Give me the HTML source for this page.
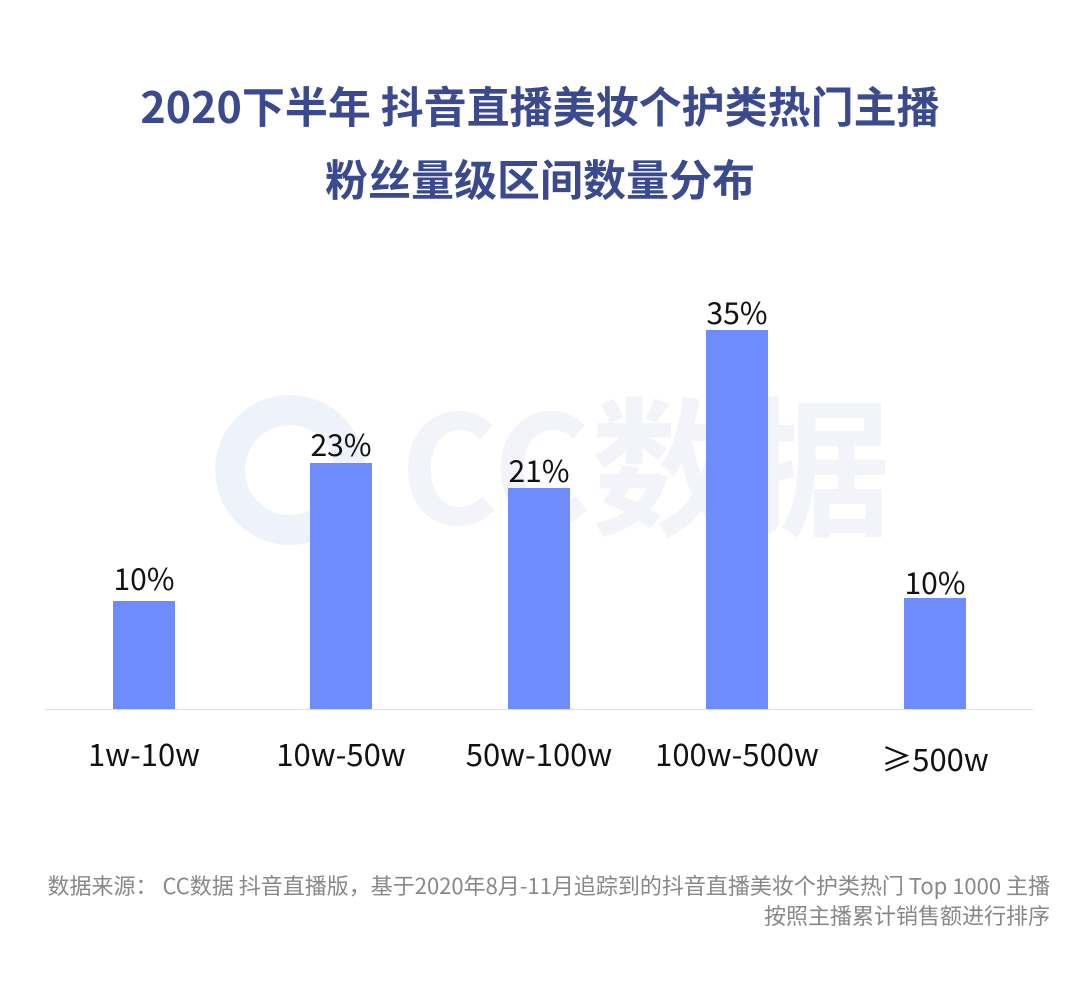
<!DOCTYPE html>
<html><head><meta charset="utf-8"><style>
body{margin:0;width:1080px;height:988px;background:#fff;position:relative;overflow:hidden;font-family:"Liberation Sans","Noto Sans CJK SC",sans-serif}
.t{position:absolute;left:0;width:1080px;text-align:center;font-weight:bold;font-size:43px;color:#3b4a8e;font-family:"Noto Sans CJK SC",sans-serif;line-height:1}
.bar{position:absolute;width:62px;background:#6f8cff;bottom:279px}
.v{position:absolute;width:140px;text-align:center;font-size:30px;color:#111;font-family:"Noto Sans CJK SC",sans-serif;line-height:1}
.c{position:absolute;width:220px;text-align:center;font-size:31px;color:#111;top:737px;font-family:"Noto Sans CJK SC",sans-serif;line-height:1}
.f{position:absolute;right:30px;font-size:22px;color:#888;font-family:"Noto Sans CJK SC",sans-serif;line-height:1;white-space:nowrap}
</style></head><body>
<div class="t" style="top:84px">2020下半年 抖音直播美妆个护类热门主播</div>
<div class="t" style="top:157px">粉丝量级区间数量分布</div>
<div style="position:absolute;left:215px;top:395px;width:150px;height:150px;border:30px solid #eef3fb;border-radius:50%;box-sizing:border-box"></div>
<div style="position:absolute;left:400px;top:385px;font-size:150px;font-weight:bold;color:#f2f4f9;font-family:'Noto Sans CJK SC',sans-serif;line-height:1">CC数据</div>
<div style="position:absolute;left:45px;top:709px;width:988px;height:1px;background:#ddd"></div>
<div class="bar" style="left:113px;top:601px"></div>
<div class="bar" style="left:310px;top:463px"></div>
<div class="bar" style="left:508px;top:488px"></div>
<div class="bar" style="left:706px;top:330px"></div>
<div class="bar" style="left:904px;top:598px"></div>
<div class="v" style="left:74px;top:562px">10%</div>
<div class="v" style="left:271px;top:428px">23%</div>
<div class="v" style="left:469px;top:454px">21%</div>
<div class="v" style="left:667px;top:296px">35%</div>
<div class="v" style="left:865px;top:566px">10%</div>
<div class="c" style="left:34px">1w-10w</div>
<div class="c" style="left:231px">10w-50w</div>
<div class="c" style="left:429px">50w-100w</div>
<div class="c" style="left:627px">100w-500w</div>
<div class="c" style="left:825px;top:742px">≥500w</div>
<div class="f" style="top:874px">数据来源： CC数据 抖音直播版，基于2020年8月-11月追踪到的抖音直播美妆个护类热门 Top 1000 主播</div>
<div class="f" style="top:904px">按照主播累计销售额进行排序</div>
</body></html>
